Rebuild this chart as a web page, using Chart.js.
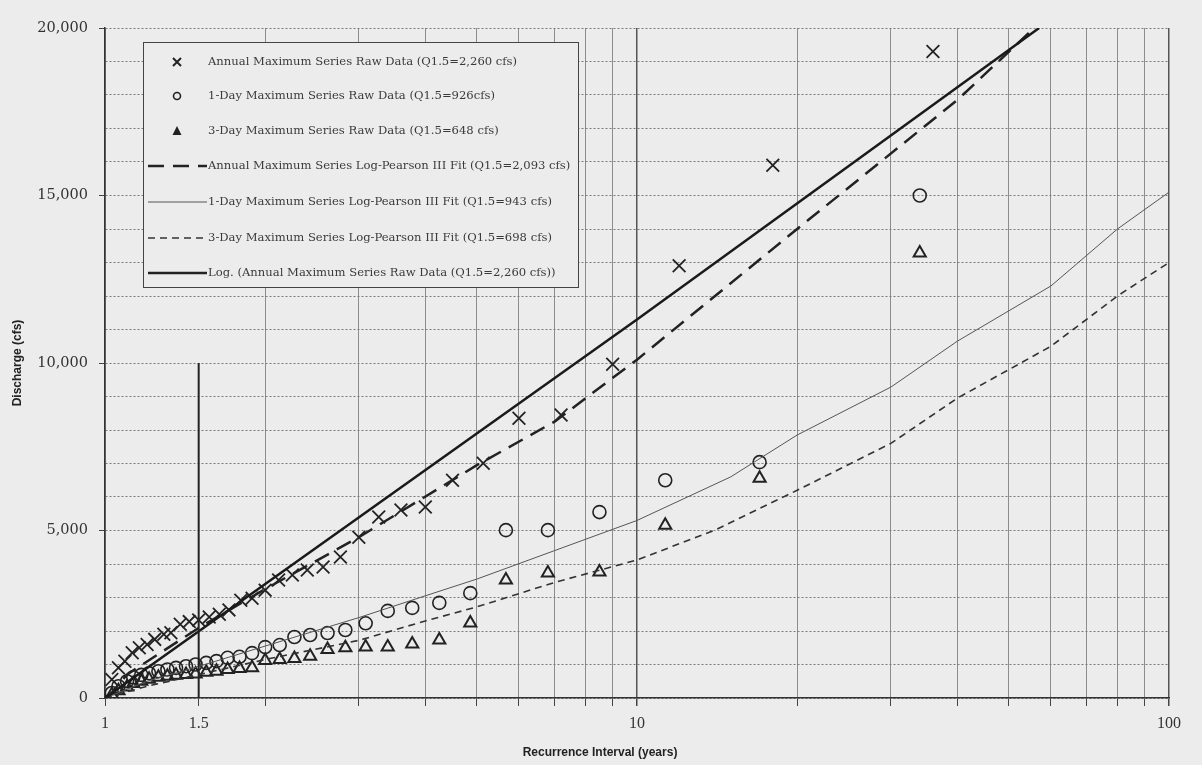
<!DOCTYPE html>
<html>
<head>
<meta charset="utf-8">
<title>Discharge vs Recurrence Interval</title>
<script src="https://cdn.jsdelivr.net/npm/chart.js@4.4.1/dist/chart.umd.min.js"></script>
<style>
  html, body { margin: 0; padding: 0; background: #ececec; }
  canvas { display: block; }
</style>
</head>
<body>
<canvas id="chartCanvas" width="1202" height="765"></canvas>
<script>
// annual maximum series, ranked (recurrence interval in years, discharge in cfs)
const annualRi = [36, 18, 12, 9, 7.2, 6, 5.14, 4.5, 4, 3.6, 3.27, 3, 2.77, 2.57, 2.4, 2.25, 2.12, 2, 1.89, 1.8,
                  1.71, 1.64, 1.57, 1.5, 1.44, 1.385, 1.33, 1.29, 1.24, 1.2, 1.16, 1.125, 1.09, 1.06, 1.03];
const annualQ = [19300, 15900, 12900, 9960, 8450, 8350, 7010, 6500, 5700, 5610, 5400, 4800, 4210, 3910, 3820, 3670, 3520, 3220, 2980, 2920,
                 2630, 2500, 2420, 2330, 2280, 2200, 1950, 1900, 1750, 1600, 1500, 1350, 1100, 900, 550];

// 1-day and 3-day series share the same plotting positions
const dailyRi = [34, 17, 11.3, 8.5, 6.8, 5.67, 4.86, 4.25, 3.78, 3.4, 3.09, 2.83, 2.62, 2.43, 2.27, 2.13, 2, 1.89, 1.79, 1.7,
                 1.62, 1.55, 1.48, 1.42, 1.36, 1.31, 1.26, 1.21, 1.17, 1.13, 1.1, 1.06, 1.03];
const oneDayQ = [15000, 7040, 6500, 5550, 5010, 5010, 3130, 2840, 2690, 2600, 2230, 2030, 1940, 1880, 1820, 1580, 1520, 1340, 1230, 1200,
                 1100, 1050, 1000, 950, 900, 850, 800, 740, 690, 620, 500, 350, 150];
const threeDayQ = [13280, 6560, 5160, 3760, 3730, 3520, 2240, 1730, 1610, 1520, 1520, 1500, 1450, 1250, 1180, 1150, 1120, 900, 880, 850,
                   800, 770, 720, 700, 680, 650, 620, 560, 500, 430, 330, 220, 100];

// fitted curves
const lpAnnualRi = [1.01, 1.1, 1.5, 2, 3, 5, 7, 10, 20, 40, 58];
const lpAnnualQ = [0, 700, 2093, 3250, 4800, 6950, 8250, 10100, 14000, 17850, 20250];
const lpOneDayRi = [1, 1.2, 1.5, 2, 3, 4, 5, 7, 10, 15, 20, 30, 40, 60, 80, 100];
const lpOneDayQ = [0, 500, 943, 1550, 2400, 3050, 3550, 4400, 5300, 6600, 7850, 9280, 10650, 12300, 14000, 15100];
const lpThreeDayRi = [1, 1.2, 1.5, 2, 3, 4, 5, 7, 10, 14, 20, 30, 40, 60, 80, 100];
const lpThreeDayQ = [0, 350, 698, 1150, 1720, 2300, 2720, 3450, 4120, 5010, 6200, 7600, 8950, 10500, 12000, 13000];
const trendRi = [1, 10, 57];
const trendQ = [0, 11300, 20000];

// reference line at the 1.5-year interval
const markRi = [1.5, 1.5];
const markQ = [0, 10000];

// axes
const xGridVals = [1, 1.5, 2, 3, 4, 5, 6, 7, 8, 9, 10, 20, 30, 40, 50, 60, 70, 80, 90, 100];
const xTickLabels = { 1: '1', 1.5: '1.5', 10: '10', 100: '100' };
const yLabelStep = 5000;

const legendLabels = [
  'Annual Maximum Series Raw Data (Q1.5=2,260 cfs)',
  '1-Day Maximum Series Raw Data (Q1.5=926cfs)',
  '3-Day Maximum Series Raw Data (Q1.5=648 cfs)',
  'Annual Maximum Series Log-Pearson III Fit (Q1.5=2,093 cfs)',
  '1-Day Maximum Series Log-Pearson III Fit (Q1.5=943 cfs)',
  '3-Day Maximum Series Log-Pearson III Fit (Q1.5=698 cfs)',
  'Log. (Annual Maximum Series Raw Data (Q1.5=2,260 cfs))'
];

function toPts(xs, ys) {
  return xs.map((x, i) => ({ x: x, y: ys[i] }));
}

const INK = '#222';
const BG = '#ececec';

// boxed legend inside the plot, like the original figure
const legendBox = {
  id: 'legendBox',
  afterDatasetsDraw(chart) {
    const ctx = chart.ctx;
    const left = 143, top = 42, w = 435, h = 245;
    ctx.save();
    ctx.fillStyle = BG;
    ctx.fillRect(left, top, w, h);
    ctx.strokeStyle = '#444';
    ctx.lineWidth = 1;
    ctx.strokeRect(left + 0.5, top + 0.5, w, h);

    const rowY = [62, 96, 131, 166, 202, 238, 273];
    const mx = 177;
    ctx.strokeStyle = INK;
    ctx.fillStyle = INK;
    // x
    ctx.lineWidth = 2;
    ctx.beginPath();
    ctx.moveTo(mx - 4, rowY[0] - 4); ctx.lineTo(mx + 4, rowY[0] + 4);
    ctx.moveTo(mx + 4, rowY[0] - 4); ctx.lineTo(mx - 4, rowY[0] + 4);
    ctx.stroke();
    // o
    ctx.lineWidth = 1.6;
    ctx.beginPath();
    ctx.arc(mx, rowY[1], 3.5, 0, Math.PI * 2);
    ctx.stroke();
    // triangle
    ctx.beginPath();
    ctx.moveTo(mx, rowY[2] - 5);
    ctx.lineTo(mx + 4.5, rowY[2] + 4);
    ctx.lineTo(mx - 4.5, rowY[2] + 4);
    ctx.closePath();
    ctx.fill();

    const lineSamples = [
      { w: 2.5, dash: [16, 9], color: INK },
      { w: 1, dash: [], color: '#555' },
      { w: 1.6, dash: [7, 5], color: '#333' },
      { w: 2.5, dash: [], color: INK }
    ];
    lineSamples.forEach((s, i) => {
      const y = rowY[3 + i];
      ctx.lineWidth = s.w;
      ctx.strokeStyle = s.color;
      ctx.setLineDash(s.dash);
      ctx.beginPath();
      ctx.moveTo(148, y);
      ctx.lineTo(207, y);
      ctx.stroke();
    });
    ctx.setLineDash([]);

    ctx.fillStyle = '#3a3a3a';
    ctx.font = '11.6px "DejaVu Serif"';
    ctx.textBaseline = 'middle';
    ctx.textAlign = 'left';
    legendLabels.forEach((t, i) => ctx.fillText(t, 208, rowY[i]));
    ctx.restore();
  }
};

// axis titles (drawn where the original puts them)
const axisTitles = {
  id: 'axisTitles',
  afterDraw(chart) {
    const ctx = chart.ctx;
    ctx.save();
    ctx.fillStyle = '#222';
    ctx.font = 'bold 12px "Liberation Sans"';
    ctx.textAlign = 'center';
    ctx.textBaseline = 'middle';
    ctx.fillText('Recurrence Interval (years)', 600, 753);
    ctx.translate(18, 363);
    ctx.rotate(-Math.PI / 2);
    ctx.fillText('Discharge (cfs)', 0, 0);
    ctx.restore();
  }
};

Chart.defaults.font.family = '"DejaVu Serif"';
Chart.defaults.color = '#444';

const lineDefaults = { showLine: true, pointRadius: 0, fill: false, tension: 0 };

new Chart(document.getElementById('chartCanvas').getContext('2d'), {
  type: 'scatter',
  data: {
    datasets: [
      Object.assign({ label: 'Q1.5 line', data: toPts(markRi, markQ), borderColor: INK, borderWidth: 2 }, lineDefaults),
      Object.assign({ label: 'Log trend', data: toPts(trendRi, trendQ), borderColor: '#1a1a1a', borderWidth: 2.5 }, lineDefaults),
      Object.assign({ label: 'Annual LP3', data: toPts(lpAnnualRi, lpAnnualQ), borderColor: INK, borderWidth: 2.5, borderDash: [16, 9] }, lineDefaults),
      Object.assign({ label: '1-Day LP3', data: toPts(lpOneDayRi, lpOneDayQ), borderColor: '#555', borderWidth: 1 }, lineDefaults),
      Object.assign({ label: '3-Day LP3', data: toPts(lpThreeDayRi, lpThreeDayQ), borderColor: '#333', borderWidth: 1.6, borderDash: [7, 5] }, lineDefaults),
      {
        label: 'Annual raw', data: toPts(annualRi, annualQ),
        pointStyle: 'crossRot', pointRadius: 9, pointBorderWidth: 1.8,
        borderColor: INK, backgroundColor: 'transparent'
      },
      {
        label: '1-Day raw', data: toPts(dailyRi, oneDayQ),
        pointStyle: 'circle', pointRadius: 6.5, pointBorderWidth: 1.6,
        borderColor: INK, backgroundColor: 'transparent'
      },
      {
        label: '3-Day raw', data: toPts(dailyRi, threeDayQ),
        pointStyle: 'triangle', pointRadius: 7, pointBorderWidth: 2,
        borderColor: INK, backgroundColor: 'transparent'
      }
    ]
  },
  options: {
    responsive: false,
    animation: false,
    layout: { padding: { left: 0, top: 28, right: 33, bottom: 0 } },
    plugins: {
      legend: { display: false },
      tooltip: { enabled: false }
    },
    scales: {
      x: {
        type: 'logarithmic',
        min: 1,
        max: 100,
        afterBuildTicks(scale) {
          scale.ticks = xGridVals.map(v => ({ value: v }));
        },
        afterFit(scale) { scale.height = 67; },
        ticks: {
          autoSkip: false,
          maxRotation: 0,
          padding: 8,
          color: '#333',
          font: { family: '"Liberation Serif"', size: 16 },
          callback: v => xTickLabels[v] || ''
        },
        grid: {
          color: c => {
            const v = c.tick ? c.tick.value : 0;
            if (v === 1.5) return 'rgba(0,0,0,0)';
            if (v === 10 || v === 100) return '#555';
            return '#8c8c8c';
          },
          lineWidth: c => (c.tick && (c.tick.value === 10 || c.tick.value === 100)) ? 1.5 : 1,
          tickColor: '#444',
          tickLength: 8
        },
        border: { color: '#333', width: 1.5 }
      },
      y: {
        min: 0,
        max: 20000,
        afterFit(scale) { scale.width = 105; },
        ticks: {
          stepSize: 1000,
          autoSkip: false,
          padding: 11,
          color: '#333',
          font: { size: 14.5 },
          callback: v => (v % yLabelStep === 0 ? v.toLocaleString('en-US') : '')
        },
        grid: {
          color: '#7a7a7a',
          lineWidth: 1,
          tickLength: 6,
          tickColor: c => (c.tick && c.tick.value % yLabelStep === 0) ? '#444' : 'rgba(0,0,0,0)'
        },
        border: { color: '#333', width: 1.5, dash: [2, 2] }
      }
    }
  },
  plugins: [legendBox, axisTitles]
});
</script>
</body>
</html>
